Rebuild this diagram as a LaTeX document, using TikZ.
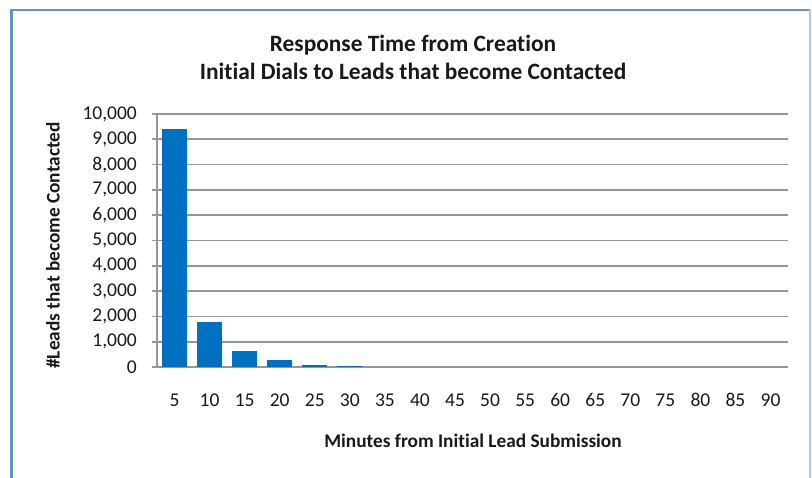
\documentclass[tikz,border=0pt]{standalone}
\usepackage{fontspec}
\setmainfont[Ligatures=NoCommon]{Carlito}
\definecolor{barblue}{RGB}{0,112,192}
\definecolor{gridgray}{RGB}{150,150,150}
\definecolor{frameblue}{RGB}{100,145,205}
\definecolor{txt}{RGB}{25,25,25}
\begin{document}
\begin{tikzpicture}[x=1pt,y=-1pt,
  grid/.style={draw=gridgray,line width=1.7pt},
  bar/.style={fill=barblue,draw=none},
  ytick/.style={anchor=east,inner sep=0pt,text=txt,font=\fontsize{19.5}{20}\selectfont},
  xtick/.style={anchor=center,inner sep=0pt,text=txt,font=\fontsize{19.5}{20}\selectfont},
  titlestyle/.style={align=center,text=txt,inner sep=0pt,font=\bfseries\fontsize{23.4}{28}\selectfont},
  axtitle/.style={text=txt,inner sep=0pt,font=\bfseries\fontsize{19.3}{20}\selectfont}]
\useasboundingbox (0,0) rectangle (812,478);
\fill[white] (0,0) rectangle (812,478);
% frame
\draw[frameblue,line width=3pt] (11,478) -- (11,10);
\draw[frameblue,line width=2pt] (10,10) -- (810,10);
\draw[frameblue!50,line width=1.5pt] (810,10) -- (810,478);
% gridlines
\foreach \v in {1,...,10} {
  \draw[grid] (152,{367-25.3*\v}) -- (788,{367-25.3*\v});
}
\draw[grid] (152,367) -- (788,367);
\draw[gridgray,line width=2pt] (157,114) -- (157,367);
% y tick labels
\foreach \v/\t in {0/0,1/{1,000},2/{2,000},3/{3,000},4/{4,000},5/{5,000},6/{6,000},7/{7,000},8/{8,000},9/{9,000},10/{10,000}} {
  \node[ytick] (y\v) at (137,{367-25.3*\v}) {\t};
}
% bars
\foreach \i/\val in {1/9400,2/1780,3/640,4/280,5/90,6/25} {
  \fill[barblue] ({157+35.06*(\i-0.5)-12.5},367) rectangle ({157+35.06*(\i-0.5)+12.5},{367-0.0253*\val});
}
% x tick labels
\foreach \i in {1,...,18} {
  \pgfmathtruncatemacro{\lab}{5*\i}
  \node[xtick] (x\i) at ({157+35.06*(\i-0.5)},400) {\lab};
}
% titles
\node[titlestyle] (title) at (413,57) {Response Time from Creation\\Initial Dials to Leads that become Contacted};
\node[axtitle] (xtitle) at (473,441) {Minutes from Initial Lead Submission};
\node[axtitle,rotate=90] (ytitle) at (53,245.5) {\#Leads that become Contacted};
\end{tikzpicture}
\end{document}
